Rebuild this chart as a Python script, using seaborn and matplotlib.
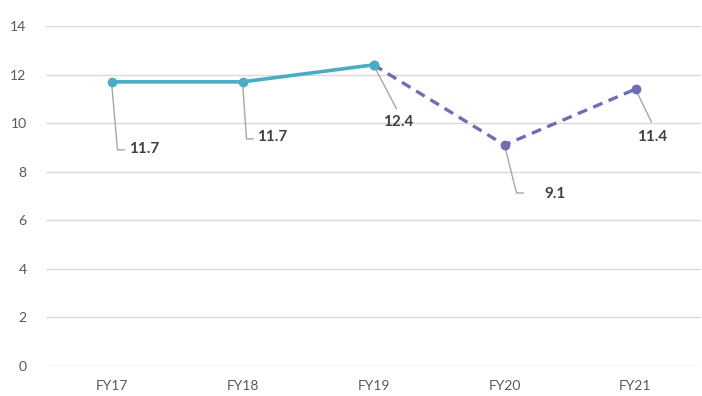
import matplotlib
matplotlib.use("Agg")
import matplotlib.pyplot as plt
import seaborn as sns
import pandas as pd
from matplotlib import font_manager

categories = ["FY17", "FY18", "FY19", "FY20", "FY21"]
values = [11.7, 11.7, 12.4, 9.1, 11.4]
actual_n = 3  # FY17-FY19 actual (solid), FY19-FY21 projected (dashed)
yticks = [0, 2, 4, 6, 8, 10, 12, 14]

sns.set_theme(style="white")
names = {f.name for f in font_manager.fontManager.ttflist}
fam = "Liberation Sans Narrow" if "Liberation Sans Narrow" in names else "Lato"
plt.rcParams["font.family"] = [fam, "DejaVu Sans"]

fig = plt.figure(figsize=(7.02, 3.96), dpi=100)
ax = fig.add_axes([46/702, 30/396, 655/702, 340/396])

df = pd.DataFrame({"x": range(len(categories)), "y": values})
teal = "#4BACC6"
purple = "#6E6EB4"
sns.lineplot(data=df.iloc[:actual_n], x="x", y="y", ax=ax, color=teal, lw=2.6,
             marker="o", markersize=7, markeredgewidth=0)
sns.lineplot(data=df.iloc[actual_n-1:], x="x", y="y", ax=ax, color=purple, lw=2.4,
             linestyle=(0, (3, 2)), marker=None)
sns.scatterplot(data=df.iloc[actual_n:], x="x", y="y", ax=ax, color=purple, s=50,
                linewidth=0, zorder=5)
sns.scatterplot(data=df.iloc[actual_n-1:actual_n], x="x", y="y", ax=ax, color=teal, s=50,
                linewidth=0, zorder=5)

ax.set_xlim(-0.5, len(categories) - 0.5)
ax.set_ylim(0, 14)

# label offsets in pixels: (leader end dx, dy, text dx, dy, has hook)
offs = [(6, -68, 18, -67, True), (4, -57, 15, -55, True), (23, -44, 10, -57, False),
        (12, -48, 40, -49, True), (16, -33, 2, -48, False)]
inv = ax.transData.inverted()
for i, (v, o) in enumerate(zip(values, offs)):
    ldx, ldy, tdx, tdy, hook = o
    px = ax.transData.transform((i, v))
    p1 = inv.transform((px[0] + ldx, px[1] + ldy))
    xs = [i, p1[0]]
    ys = [v, p1[1]]
    if hook:
        p2 = inv.transform((px[0] + ldx + 7, px[1] + ldy))
        xs.append(p2[0]); ys.append(p2[1])
    ax.plot(xs, ys, color="#A6A6A6", lw=1, zorder=1)
    ax.annotate(f"{v}", (i, v), xytext=(tdx, tdy), textcoords="offset pixels",
                ha="left", va="center", fontsize=11, fontweight="bold", color="#404040")

ax.set_xticks(range(len(categories)))
ax.set_xticklabels(categories)
ax.set_yticks(yticks)
ax.set_yticklabels([str(t) for t in yticks])
ax.yaxis.grid(True, color="#D9D9D9", lw=1)
ax.set_axisbelow(True)
for s in ax.spines.values():
    s.set_visible(False)
ax.tick_params(axis="both", length=0, labelsize=10, colors="#595959")
ax.tick_params(axis="y", pad=14)
ax.tick_params(axis="x", pad=10)
ax.set_xlabel("")
ax.set_ylabel("")

fig.savefig("out.png", dpi=100)
